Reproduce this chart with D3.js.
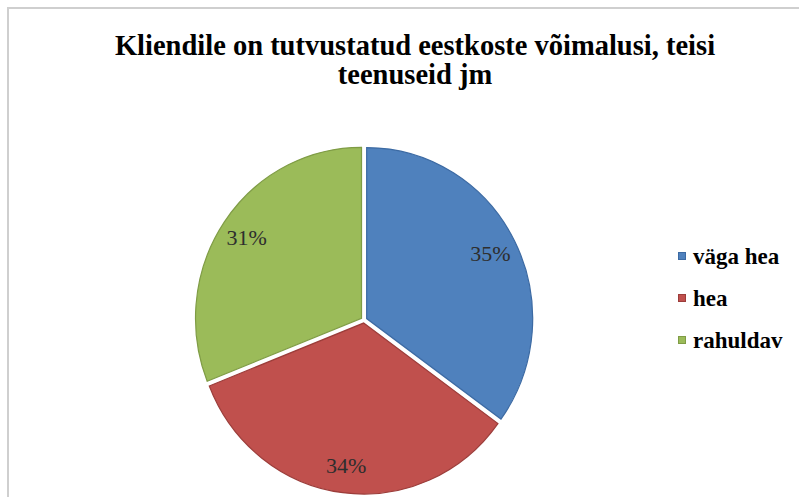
<!DOCTYPE html>
<html>
<head>
<meta charset="utf-8">
<script src="https://cdn.jsdelivr.net/npm/d3@7"></script>
<style>
  body { margin: 0; background: #fff; }
  svg { display: block; }
</style>
</head>
<body>
<svg id="vis"></svg>
<script>
// chart data
var categories = ["väga hea", "hea", "rahuldav"];
var shares = [35, 34, 31];
var fills = ["#4f81bd", "#c0504d", "#9bbb59"];
var edges = ["#3c6aa3", "#9c3d3a", "#7f9c45"];
var titleLines = ["Kliendile on tutvustatud eestkoste võimalusi, teisi", "teenuseid jm"];

var vWidth = 799, vHeight = 497;

var svg = d3.select("#vis")
  .attr("width", vWidth)
  .attr("height", vHeight);

// chart frame (runs off the right / bottom)
svg.append("rect")
  .attr("x", 8).attr("y", 8)
  .attr("width", 820).attr("height", 520)
  .attr("fill", "none")
  .attr("stroke", "#cfcfcf")
  .attr("stroke-width", 2);

// title
svg.append("text")
  .attr("x", 415)
  .attr("text-anchor", "middle")
  .style("font-family", "'Liberation Serif', serif")
  .style("font-weight", "bold")
  .style("font-size", "28.5px")
  .style("fill", "#000")
  .selectAll("tspan")
  .data(titleLines)
  .enter().append("tspan")
  .attr("x", 415)
  .attr("y", function(d, i){ return 55 + i * 29; })
  .text(function(d){ return d; });

// pie
var radius = 166, explode = 3;
var pie = d3.pie().sort(null).startAngle(0).endAngle(2 * Math.PI);
var arcs = pie(shares);
var arc = d3.arc().innerRadius(0).outerRadius(radius);
var labelArc = d3.arc().innerRadius(139).outerRadius(139);

var g = svg.append("g")
  .attr("transform", "translate(364,320) scale(1,1.03)");

var slice = g.selectAll("g.slice")
  .data(arcs)
  .enter().append("g")
  .attr("class", "slice")
  .attr("transform", function(d){
    var a = (d.startAngle + d.endAngle) / 2;
    return "translate(" + (Math.sin(a) * explode) + "," + (-Math.cos(a) * explode) + ")";
  });

slice.append("path")
  .attr("d", arc)
  .attr("fill", function(d, i){ return fills[i]; })
  .attr("stroke", function(d, i){ return edges[i]; })
  .attr("stroke-width", 1.2);

slice.append("text")
  .attr("transform", function(d){
    var c = labelArc.centroid(d);
    return "translate(" + c[0] + "," + c[1] + ") scale(1," + (1 / 1.03) + ")";
  })
  .attr("text-anchor", "middle")
  .attr("dy", "0.35em")
  .style("font-family", "'Liberation Serif', serif")
  .style("font-size", "22px")
  .style("fill", "#2e2e2e")
  .text(function(d){ return d.data + "%"; });

// legend
var legend = svg.selectAll("g.legend")
  .data(categories)
  .enter().append("g")
  .attr("class", "legend")
  .attr("transform", function(d, i){ return "translate(678," + (256 + i * 42) + ")"; });

legend.append("rect")
  .attr("x", 0.5).attr("y", -3.5)
  .attr("width", 7).attr("height", 7)
  .attr("fill", function(d, i){ return fills[i]; })
  .attr("stroke", function(d, i){ return edges[i]; })
  .attr("stroke-width", 1);

legend.append("text")
  .attr("x", 15)
  .attr("dy", "0.35em")
  .style("font-family", "'Liberation Serif', serif")
  .style("font-weight", "bold")
  .style("font-size", "23px")
  .style("fill", "#000")
  .text(function(d){ return d; });
</script>
</body>
</html>
